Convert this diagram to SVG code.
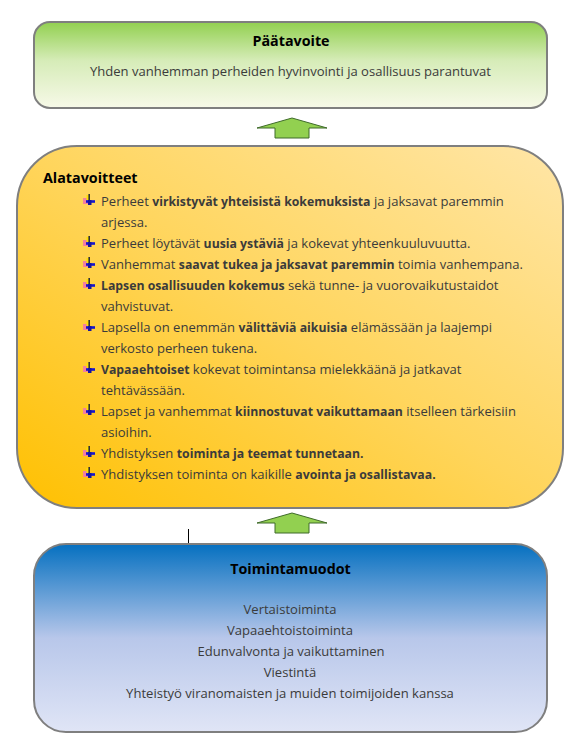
<svg xmlns="http://www.w3.org/2000/svg" width="577" height="749" viewBox="0 0 577 749">
<style>
text{font-family:"Open Sans","Noto Sans","Liberation Sans",sans-serif;font-size:13.05px;fill:#3b3b3b}
.h{font-weight:700;fill:#000;font-size:14.3px}
.c{text-anchor:middle}
.b{font-weight:700;font-size:12.25px}
.box{stroke:#7f7f7f;stroke-width:2}
.arrow{fill:#92d050;stroke:#3f6b2a;stroke-width:1}
</style>
<defs>
<linearGradient id="gGreen" x1="0" y1="0" x2="0" y2="1"><stop offset="0" stop-color="#92d050"/><stop offset=".45" stop-color="#d6ecb8"/><stop offset="1" stop-color="#f7f9e8"/></linearGradient>
<linearGradient id="gOrange" x1="0" y1="1" x2="1" y2="0"><stop offset="0" stop-color="#ffc000"/><stop offset=".5" stop-color="#ffd55c"/><stop offset="1" stop-color="#ffe6a8"/></linearGradient>
<linearGradient id="gBlue" x1="0" y1="0" x2="0" y2="1"><stop offset="0" stop-color="#0570c0"/><stop offset=".5" stop-color="#b8c7ea"/><stop offset="1" stop-color="#e0e5f6"/></linearGradient>
<g id="bullet"><rect x="-6" y="-3" width="6" height="6" fill="#f4809c"/><rect x="-2.500" y="-6" width="3" height="5" fill="#ffe000"/><rect x="-.6" y="-7" width="1.6" height="6" fill="#333"/><rect x="-3" y="-.8" width="9" height="2.600" fill="#1414d0"/><rect x="-1" y="-1" width="3.500" height="5" fill="#1414a0"/></g>
</defs>
<g id="connectors">
<path class="arrow" d="M292 118L327 128H309V138H275V128H257Z"/>
<path class="arrow" d="M292 513L327 523H309V533H275V523H257Z"/>
<path d="M188.500 529V544" stroke="#000" fill="none"/>
</g>
<g id="paatavoite">
<rect class="box" x="34" y="22" width="513" height="86" rx="16" fill="url(#gGreen)"/>
<text class="h c" x="291" y="46">Päätavoite</text>
<text class="c" x="290.500" y="76">Yhden vanhemman perheiden hyvinvointi ja osallisuus parantuvat</text>
</g>
<g id="alatavoitteet">
<rect class="box" x="17" y="146" width="546" height="362" rx="60" fill="url(#gOrange)"/>
<text class="h" x="43" y="183">Alatavoitteet</text>
<use href="#bullet" x="89" y="201"/><use href="#bullet" x="89" y="243"/><use href="#bullet" x="89" y="264"/><use href="#bullet" x="89" y="285"/><use href="#bullet" x="89" y="327"/><use href="#bullet" x="89" y="369"/><use href="#bullet" x="89" y="411"/><use href="#bullet" x="89" y="453"/><use href="#bullet" x="89" y="474"/>
<text x="101" y="206">Perheet <tspan class="b">virkistyvät yhteisistä kokemuksista</tspan> ja jaksavat paremmin</text>
<text x="101" y="227">arjessa.</text>
<text x="101" y="248">Perheet löytävät <tspan class="b">uusia ystäviä</tspan> ja kokevat yhteenkuuluvuutta.</text>
<text x="101" y="269">Vanhemmat <tspan class="b">saavat tukea ja jaksavat paremmin</tspan> toimia vanhempana.</text>
<text x="101" y="290"><tspan class="b">Lapsen osallisuuden kokemus</tspan> sekä tunne- ja vuorovaikutustaidot</text>
<text x="101" y="311">vahvistuvat.</text>
<text x="101" y="332">Lapsella on enemmän <tspan class="b">välittäviä aikuisia</tspan> elämässään ja laajempi</text>
<text x="101" y="353">verkosto perheen tukena.</text>
<text x="101" y="374"><tspan class="b">Vapaaehtoiset</tspan> kokevat toimintansa mielekkäänä ja jatkavat</text>
<text x="101" y="395">tehtävässään.</text>
<text x="101" y="416">Lapset ja vanhemmat <tspan class="b">kiinnostuvat vaikuttamaan</tspan> itselleen tärkeisiin</text>
<text x="101" y="437">asioihin.</text>
<text x="101" y="458">Yhdistyksen <tspan class="b">toiminta ja teemat tunnetaan.</tspan></text>
<text x="101" y="479">Yhdistyksen toiminta on kaikille <tspan class="b">avointa ja osallistavaa.</tspan></text>
</g>
<g id="toimintamuodot">
<rect class="box" x="34" y="544" width="513" height="188" rx="32" fill="url(#gBlue)"/>
<text class="h c" x="290.500" y="574">Toimintamuodot</text>
<text class="c" x="290" y="614">Vertaistoiminta</text>
<text class="c" x="290" y="635">Vapaaehtoistoiminta</text>
<text class="c" x="291" y="656">Edunvalvonta ja vaikuttaminen</text>
<text class="c" x="290" y="677">Viestintä</text>
<text class="c" x="290" y="698">Yhteistyö viranomaisten ja muiden toimijoiden kanssa</text>
</g>
</svg>
